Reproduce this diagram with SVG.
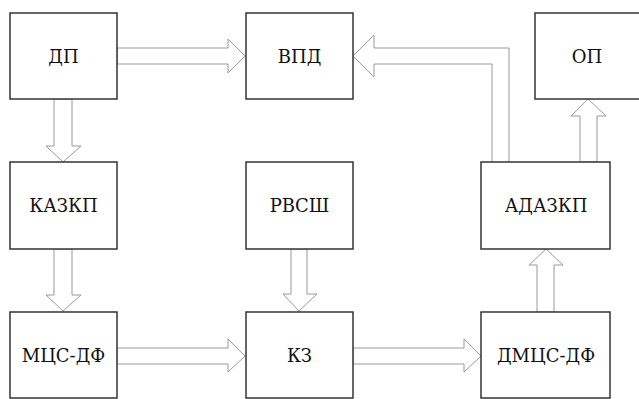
<svg xmlns="http://www.w3.org/2000/svg" width="639" height="399" viewBox="0 0 639 399">
<style>
.box{fill:#fff;stroke:#333;stroke-width:1.5}
.lbl{font-family:'DejaVu Serif',serif;font-size:18px;fill:#111;text-anchor:middle}
.arr{fill:#fff;stroke:#999;stroke-width:1}
</style>
<rect width="639" height="399" fill="#fff"/>
<g id="connectors">
<polygon class="arr" points="117,48 228,48 228,39 245,56 228,73 228,64 117,64"/>
<polygon class="arr" points="54,99 54,146 46,146 63,162 81,146 72,146 72,99"/>
<polygon class="arr" points="54,249 54,295 46,295 63,311 81,295 72,295 72,249"/>
<polygon class="arr" points="291,249 291,294 283,294 299,311 317,294 307,294 307,249"/>
<polygon class="arr" points="117,348 228,348 228,339 245,356 228,372 228,364 117,364"/>
<polygon class="arr" points="353,348 464,348 464,339 481,356 464,372 464,364 353,364"/>
<polygon class="arr" points="537,312 537,265 529,265 546,249 563,265 554,265 554,312"/>
<polygon class="arr" points="580,162 580,116 571,116 588,99 606,116 597,116 597,162"/>
<polyline class="arr" points="492,162 492,64 374,64 374,77 353,56 374,35 374,48 509,48 509,162"/>
</g>
<g id="dp"><rect class="box" x="10" y="13" width="107" height="86"/><text class="lbl" x="63.5" y="63">ДП</text></g>
<g id="vpd"><rect class="box" x="246" y="13" width="107" height="86"/><text class="lbl" x="299.5" y="63">ВПД</text></g>
<g id="op"><rect class="box" x="535" y="13" width="110" height="86"/><text class="lbl" x="587" y="63">ОП</text></g>
<g id="kazkp"><rect class="box" x="10" y="162" width="107" height="87"/><text class="lbl" x="63.5" y="212">КАЗКП</text></g>
<g id="rvssh"><rect class="box" x="246" y="162" width="107" height="87"/><text class="lbl" x="299.5" y="212">РВСШ</text></g>
<g id="adazkp"><rect class="box" x="481" y="162" width="129" height="87"/><text class="lbl" x="546" y="212">АДАЗКП</text></g>
<g id="mcs-df"><rect class="box" x="10" y="312" width="107" height="86"/><text class="lbl" x="63.5" y="362">МЦС-ДФ</text></g>
<g id="kz"><rect class="box" x="246" y="312" width="107" height="86"/><text class="lbl" x="299.5" y="362">КЗ</text></g>
<g id="dmcs-df"><rect class="box" x="481" y="312" width="129" height="86"/><text class="lbl" x="546" y="362">ДМЦС-ДФ</text></g>
</svg>
